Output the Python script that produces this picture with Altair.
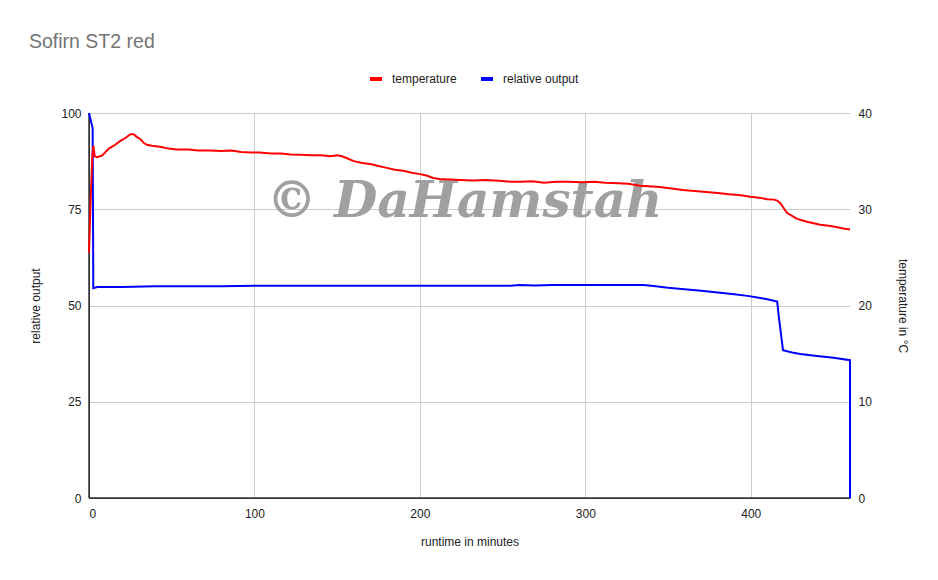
import altair as alt
import pandas as pd

# ---------------- data ----------------
temp_time = [0, 1, 2, 2.6, 3.5, 5, 8, 12, 15, 19, 22, 25, 27, 29, 31, 33, 35, 38, 43, 48,
             53, 60, 66, 73, 80, 86, 92, 98, 103, 110, 116, 122, 128, 134, 140, 146, 150,
             153, 156, 160, 165, 170, 175, 180, 185, 190, 195, 200, 204, 208, 212, 218,
             224, 232, 240, 248, 255, 261, 268, 275, 282, 290, 298, 305, 312, 320, 326,
             333, 338, 345, 352, 359, 366, 373, 380, 387, 394, 400, 405, 410, 414, 416,
             418, 420, 422, 425, 428, 431, 434, 438, 442, 446, 450, 453, 456, 460]
temp_vals = [25.5, 31.0, 35.5, 36.6, 35.5, 35.4, 35.6, 36.3, 36.6, 37.1, 37.4, 37.8, 37.8,
             37.5, 37.3, 36.9, 36.7, 36.6, 36.5, 36.3, 36.2, 36.2, 36.1, 36.1, 36.05, 36.1,
             35.95, 35.9, 35.9, 35.8, 35.8, 35.7, 35.65, 35.6, 35.6, 35.5, 35.6, 35.5, 35.3,
             35.0, 34.8, 34.7, 34.5, 34.3, 34.1, 34.0, 33.8, 33.65, 33.5, 33.25, 33.15, 33.1,
             33.05, 33.0, 33.05, 32.95, 32.85, 32.85, 32.9, 32.75, 32.85, 32.85, 32.8, 32.85,
             32.75, 32.7, 32.65, 32.45, 32.4, 32.3, 32.15, 32.0, 31.9, 31.8, 31.7, 31.55,
             31.45, 31.3, 31.2, 31.05, 31.0, 30.9, 30.6, 30.1, 29.6, 29.3, 29.0, 28.85, 28.7,
             28.55, 28.4, 28.3, 28.2, 28.1, 28.0, 27.9]

out_time = [0, 2.2, 2.6, 5, 20, 40, 80, 100, 150, 200, 255, 260, 270, 280, 300, 335, 340,
            350, 360, 370, 380, 390, 398, 405, 410, 416, 417, 419.5, 425, 430, 440, 450,
            460, 460]
out_vals = [100, 96.1, 54.5, 54.8, 54.8, 55.0, 55.0, 55.1, 55.1, 55.1, 55.1, 55.3, 55.2,
            55.3, 55.3, 55.3, 55.1, 54.6, 54.2, 53.8, 53.4, 52.9, 52.5, 52.0, 51.6, 51.0,
            47.0, 38.4, 37.8, 37.4, 36.9, 36.4, 35.8, 0]

series_names = ["temperature", "relative output"]
series_colors = ["#ff0000", "#0000ff"]
x_ticks = [0, 100, 200, 300, 400]
left_ticks = [0, 25, 50, 75, 100]
right_ticks = [0, 10, 20, 30, 40]

temp_df = pd.DataFrame({"t": temp_time, "v": temp_vals, "series": series_names[0],
                        "i": list(range(len(temp_time)))})
out_df = pd.DataFrame({"t": out_time, "v": out_vals, "series": series_names[1],
                       "i": list(range(len(out_time)))})
mark_df = pd.DataFrame({"t": [227], "v": [77], "label": ["© DaHamstah"]})
base_df = pd.DataFrame({"t": [0], "v": [0]})

FONT = "Liberation Sans"

color = alt.Color(
    "series:N",
    scale=alt.Scale(domain=series_names, range=series_colors),
    legend=alt.Legend(
        title=None, orient="none", legendX=279, legendY=-42, direction="horizontal",
        symbolType="stroke", symbolStrokeWidth=4, symbolSize=144,
        labelFont=FONT, labelFontSize=12, labelColor="#222222", columnPadding=16,
        labelOffset=8,
    ),
)

x_enc = alt.X(
    "t:Q",
    scale=alt.Scale(domain=[0, 460], nice=False, zero=False),
    axis=alt.Axis(title="runtime in minutes", values=x_ticks, grid=True, domain=True,
                  domainColor="#333333", labelPadding=10, titlePadding=17),
)

y_left = alt.Y(
    "v:Q", scale=alt.Scale(domain=[0, 100], nice=False),
    axis=alt.Axis(title="relative output", orient="left", values=left_ticks,
                  grid=True, domain=True, domainColor="#333333",
                  labelPadding=8, titlePadding=18),
)

watermark = alt.Chart(mark_df).mark_text(
    font="DejaVu Serif", fontStyle="italic", fontWeight="bold", fontSize=50,
    color="#a0a0a0", align="center", baseline="middle",
).encode(x=x_enc, y=y_left, text="label:N")

# baseline (x axis line) and left axis line, drawn in data coordinates
base_h = alt.Chart(base_df).mark_rule(color="#333333", strokeWidth=1.5).encode(
    y=y_left
)
base_v = alt.Chart(base_df).mark_rule(color="#333333", strokeWidth=1.5).encode(
    x=x_enc
)

blue = alt.Chart(out_df).mark_line(strokeWidth=2).encode(
    x=x_enc, y=y_left, color=color, order="i:Q",
)

red = alt.Chart(temp_df).mark_line(strokeWidth=2).encode(
    x=x_enc,
    y=alt.Y("v:Q", scale=alt.Scale(domain=[0, 40], nice=False),
            axis=alt.Axis(title="temperature in °C", orient="right", values=right_ticks,
                          grid=False, domain=False, labelPadding=8, titlePadding=24)),
    color=color,
    order="i:Q",
)

chart = alt.layer(alt.layer(watermark, base_h, base_v, blue), red).resolve_scale(
    y="independent"
).properties(
    width=761, height=385,
    autosize=alt.AutoSizeParams(type="none"),
    padding={"left": 81, "top": 105, "right": 80, "bottom": 60},
    title=alt.TitleParams(
        "Sofirn ST2 red", anchor="start", frame="group", dx=-60, offset=19,
        font=FONT, fontSize=19.5, fontWeight="normal", color="#757575",
    ),
).configure_view(stroke=None).configure_axis(
    labelFont=FONT, labelFontSize=12, labelColor="#222222",
    titleFont=FONT, titleFontSize=12, titleFontWeight="normal", titleColor="#222222",
    gridColor="#cccccc", ticks=False,
)

chart.save("out.html", embed_options={"renderer": "svg", "actions": False})
